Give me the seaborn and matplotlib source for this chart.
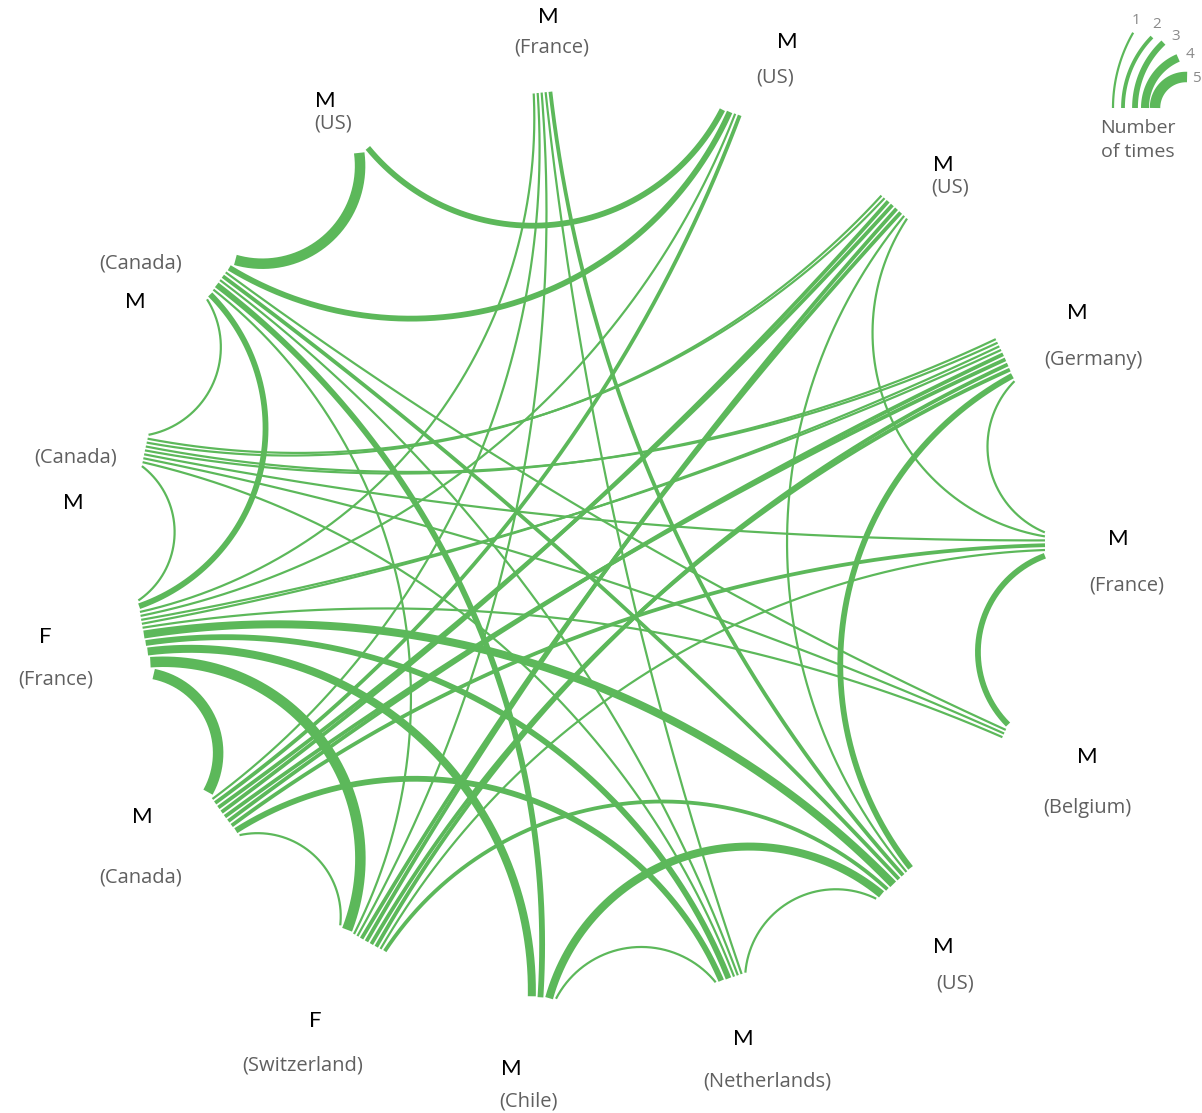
import numpy as np
import pandas as pd
import matplotlib
matplotlib.use("Agg")
import matplotlib.pyplot as plt
import seaborn as sns

# ----------------------------
# 1. Data (nodes clockwise from top)
# ----------------------------
genders = ["M", "M", "M", "M", "M", "M", "M", "M", "M", "F", "M", "F", "M", "M", "M"]
countries = ["(France)", "(US)", "(US)", "(Germany)", "(France)", "(Belgium)", "(US)",
             "(Netherlands)", "(Chile)", "(Switzerland)", "(Canada)", "(France)",
             "(Canada)", "(Canada)", "(US)"]

# links between nodes and number of times
edge_src = [14, 14,
            13, 13, 13, 13, 13, 13, 13, 13,
            12, 12, 12, 12, 12, 12,
            11, 11, 11, 11, 11, 11, 11, 11, 11,
            10, 10, 10, 10, 10, 10, 10,
            9, 9, 9, 9, 9,
            8, 8, 7, 7,
            6, 6, 6,
            5, 4, 4,
            3, 3, 3, 3,
            2, 2, 2]
edge_dst = [13, 1,
            1, 11, 12, 9, 8, 7, 6, 5,
            11, 2, 3, 5, 7, 4,
            6, 7, 8, 9, 10, 0, 1, 3, 5,
            7, 9, 4, 1, 2, 3, 0,
            0, 2, 3, 4, 6,
            6, 7, 6, 0,
            3, 0, 2,
            4, 2, 3,
            12, 11, 10, 9,
            12, 10, 9]
edge_times = [5, 3,
              3, 3, 1, 1, 3, 1, 2, 1,
              1, 1, 1, 1, 1, 1,
              4, 3, 4, 5, 5, 1, 1, 1, 1,
              3, 1, 2, 2, 2, 2, 1,
              1, 2, 2, 1, 2,
              4, 1, 1, 1,
              3, 2, 1,
              3, 1, 1,
              1, 1, 2, 2,
              1, 2, 2]

legend_levels = [1, 2, 3, 4, 5]

# ----------------------------
# 2. Layout / style
# ----------------------------
GREEN = "#5cb85a"
GREY = "#606060"
CX, CY, R = 590, 545, 455
FLAT = 1.08          # arcs are orthogonal to a slightly bigger circle -> flatter short arcs
width_px = {1: 2.2, 2: 3.8, 3: 5.8, 4: 8.0, 5: 10.5}
GAP = 1.8

gender_pos = [(548, 17), (787, 42), (943, 165), (1077, 313), (1118, 539), (1087, 757),
              (943, 947), (743, 1039), (511, 1069), (315, 1021), (142, 817), (45, 637),
              (73, 503), (135, 302), (325, 101)]
country_pos = [(552, 48), (775, 78), (950, 188), (1093, 360), (1127, 585), (1087, 808),
               (955, 983), (767, 1082), (528, 1102), (303, 1065), (141, 877), (56, 680),
               (76, 458), (141, 264), (333, 123)]

n = len(genders)
node_ang = np.radians(96 - 24 * np.arange(n))

# endpoint slots at every node, sorted by clockwise distance to the other end
slot = {}
for i in range(n):
    inc = []
    for k, (a, b) in enumerate(zip(edge_src, edge_dst)):
        if a == i:
            inc.append((k, b))
        elif b == i:
            inc.append((k, a))
    inc.sort(key=lambda t: np.degrees(node_ang[i] - node_ang[t[1]]) % 360)
    sizes = [width_px[edge_times[k]] + GAP for k, _ in inc]
    pos = -sum(sizes) / 2
    for (k, _), s in zip(inc, sizes):
        slot[(k, i)] = node_ang[i] + (pos + s / 2) / R
        pos += s


def link_arc(a, b, npts=200):
    p1 = R * np.array([np.cos(a), np.sin(a)])
    p2 = R * np.array([np.cos(b), np.sin(b)])
    d = (b - a + np.pi) % (2 * np.pi) - np.pi
    m = a + d / 2
    Rb = FLAT * R
    D = (Rb ** 2 + R ** 2) / (2 * R * np.cos(d / 2))
    c = D * np.array([np.cos(m), np.sin(m)])
    r = np.sqrt(D ** 2 - Rb ** 2)
    f1 = np.arctan2(p1[1] - c[1], p1[0] - c[0])
    f2 = np.arctan2(p2[1] - c[1], p2[0] - c[0])
    df_ = (f2 - f1 + np.pi) % (2 * np.pi) - np.pi
    f = f1 + np.linspace(0, 1, npts) * df_
    X = c[0] + r * np.cos(f)
    Y = c[1] + r * np.sin(f)
    return CX + X, CY - Y


rows = []
for k, (a, b, w) in enumerate(zip(edge_src, edge_dst, edge_times)):
    xs, ys = link_arc(slot[(k, a)], slot[(k, b)])
    for x, y in zip(xs, ys):
        rows.append((k, w, x, y))
links = pd.DataFrame(rows, columns=["edge", "times", "x", "y"])

# legend arcs: (bottom x, radius, top angle)
leg_bottom = [1113, 1123, 1135, 1145, 1155]
leg_radius = [150.6, 101.4, 89.4, 54.4, 31.0]
leg_top = [150, 135.6, 133, 113, 88]
leg_rows = []
for lvl, xb, r, top in zip(legend_levels, leg_bottom, leg_radius, leg_top):
    phi = np.radians(np.linspace(180, top, 60))
    for p in phi:
        leg_rows.append((lvl, xb + r + r * np.cos(p), 108 - r * np.sin(p)))
leg = pd.DataFrame(leg_rows, columns=["level", "x", "y"])

# ----------------------------
# 3. Plot
# ----------------------------
sns.set_theme(style="white")
plt.rcParams["font.family"] = ["Open Sans", "DejaVu Sans"]

fig = plt.figure(figsize=(12.02, 11.13), dpi=100)
ax = fig.add_axes([0, 0, 1, 1])

line_sizes = {w: width_px[w] * 0.72 for w in legend_levels}
sns.lineplot(data=links, x="x", y="y", units="edge", estimator=None, sort=False,
             size="times", sizes=line_sizes, color=GREEN, legend=False, ax=ax,
             solid_capstyle="butt")
sns.lineplot(data=leg, x="x", y="y", units="level", estimator=None, sort=False,
             size="level", sizes=line_sizes, color=GREEN, legend=False, ax=ax,
             solid_capstyle="butt")

for g, c, gp, cp in zip(genders, countries, gender_pos, country_pos):
    ax.text(gp[0], gp[1], g, ha="center", va="center", fontsize=16,
            family=["Lato", "DejaVu Sans"], color="black")
    ax.text(cp[0], cp[1], c, ha="center", va="center", fontsize=14.5, color=GREY)

num_pos = [(1136, 20), (1157, 25), (1176, 37), (1190, 55), (1196, 78)]
for lvl, p in zip(legend_levels, num_pos):
    ax.text(p[0], p[1], str(lvl), ha="center", va="center", fontsize=11, color="#8a8a8a")
ax.text(1138, 128, "Number", ha="center", va="center", fontsize=14, color=GREY)
ax.text(1138, 152, "of times", ha="center", va="center", fontsize=14, color=GREY)

ax.set_xlim(0, 1202)
ax.set_ylim(1113, 0)
ax.axis("off")

fig.savefig("out.png", dpi=100)
